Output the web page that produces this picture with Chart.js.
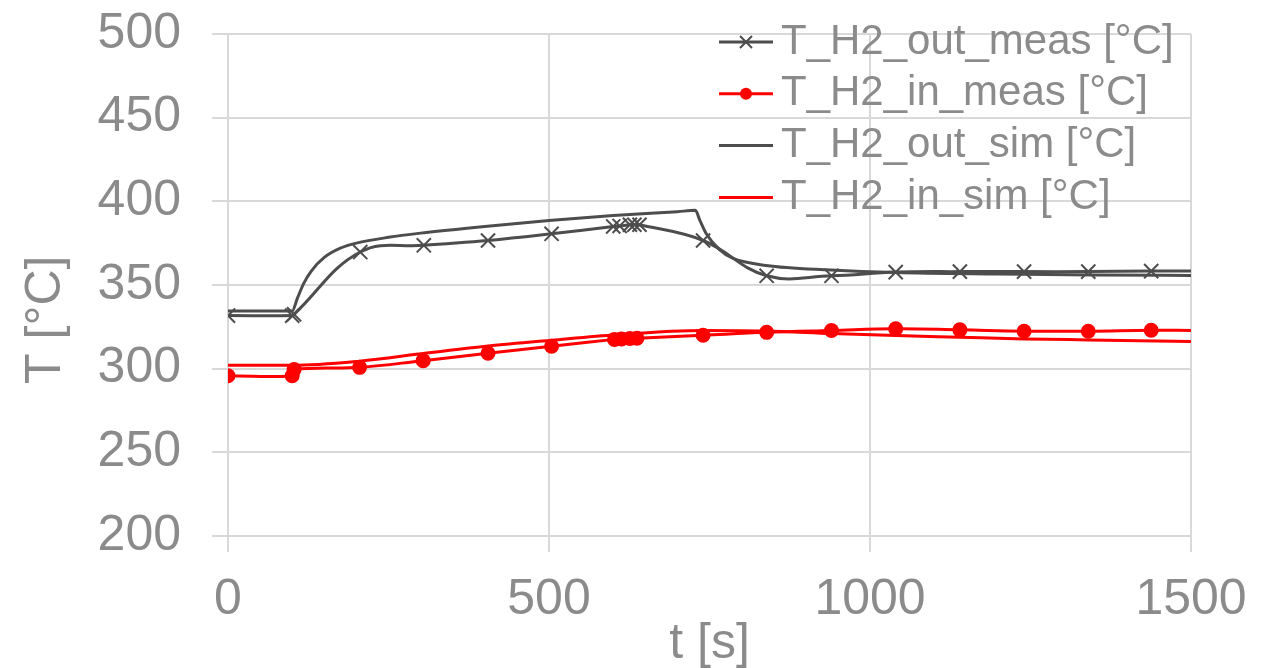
<!DOCTYPE html>
<html>
<head>
<meta charset="utf-8">
<script src="https://cdn.jsdelivr.net/npm/chart.js@4.4.0/dist/chart.umd.min.js"></script>
<style>
html,body{margin:0;padding:0;background:#ffffff;}
#wrap{width:1262px;height:668px;}
</style>
</head>
<body>
<div id="wrap"><canvas id="c" width="1262" height="668"></canvas></div>
<script>
// ---- data ----
const seriesNames = ['T_H2_out_meas [°C]', 'T_H2_in_meas [°C]', 'T_H2_out_sim [°C]', 'T_H2_in_sim [°C]'];

const outMeasTime = [0, 100, 103, 206, 305, 405, 504, 600, 610, 626, 633, 641, 740, 839, 940, 1040, 1140, 1240, 1340, 1438, 1500];
const outMeas     = [331.7, 331.7, 332.5, 369.7, 373.7, 376.6, 380.6, 385, 385.3, 386, 386, 386, 376.6, 355.5, 355.5, 357.7, 358, 358, 358, 358.3, 358.3];

const inMeasTime  = [0, 100, 103, 205, 304, 405, 504, 602, 613, 626, 637, 740, 839, 940, 1040, 1140, 1240, 1340, 1438, 1500];
const inMeas      = [295.8, 295.8, 299.5, 300.8, 304.8, 309.2, 313.4, 317.5, 317.8, 318, 318.2, 320, 321.7, 322.8, 323.8, 323.2, 322.4, 322.4, 323, 322.8];

const outSimTime  = [0, 100, 108, 118, 130, 150, 175, 200, 250, 300, 400, 500, 600, 700, 728, 735, 745, 766, 786, 838, 940, 1040, 1200, 1350, 1500];
const outSim      = [334.5, 334.5, 342, 351, 358.5, 366.5, 372, 375, 378.5, 381, 385, 388.5, 391.5, 393.8, 394.6, 388.6, 380.6, 371, 366, 361.7, 359, 357.5, 356.6, 356, 355.7];

const inSimTime   = [0, 100, 205, 304, 405, 504, 605, 740, 838, 940, 1040, 1140, 1240, 1340, 1500];
const inSim       = [302, 302, 304.5, 309, 313.5, 317, 320.3, 322.8, 322.5, 321, 319.8, 318.8, 317.8, 317.2, 316.3];

const xTickValues = [0, 500, 1000, 1500];
const yTickValues = [200, 250, 300, 350, 400, 450, 500];
const xTitle = 't [s]';
const yTitle = 'T [°C]';

// ---- styling ----
const FONT = "'Liberation Sans', Arial, sans-serif";
const GRAY = '#8b8b8b';
const GRID = '#d9d9d9';
const DARK = '#4d4d4d';
const RED = '#ff0000';

function pts(xs, ys) { return xs.map((x, i) => ({ x: x, y: ys[i] })); }
function markerRadius(r) {
  return ctx => (ctx.raw && ctx.raw.x >= 1500 ? 0 : r);
}

const legendPlugin = {
  id: 'xlLegend',
  afterDraw(chart) {
    const ctx = chart.ctx;
    const x1 = 719, x2 = 773, xm = 746, xt = 781;
    const top = 42, gap = 51.8;
    ctx.save();
    chart.data.datasets.forEach((ds, i) => {
      const y = top + i * gap;
      ctx.strokeStyle = ds.borderColor;
      ctx.lineWidth = 3;
      ctx.beginPath(); ctx.moveTo(x1, y); ctx.lineTo(x2, y); ctx.stroke();
      if (ds.pointStyle === 'crossRot') {
        ctx.lineWidth = 2;
        const s = 6;
        ctx.beginPath();
        ctx.moveTo(xm - s, y - s); ctx.lineTo(xm + s, y + s);
        ctx.moveTo(xm - s, y + s); ctx.lineTo(xm + s, y - s);
        ctx.stroke();
      } else if (ds.pointStyle === 'circle' && ds.pointRadius) {
        ctx.fillStyle = ds.borderColor;
        ctx.beginPath(); ctx.arc(xm, y, 6, 0, Math.PI * 2); ctx.fill();
      }
      ctx.fillStyle = GRAY;
      ctx.font = '42px ' + FONT;
      ctx.textAlign = 'left';
      ctx.textBaseline = 'middle';
      ctx.fillText(ds.label, xt, y);
    });
    ctx.restore();
  }
};

new Chart(document.getElementById('c'), {
  type: 'line',
  data: {
    datasets: [
      { label: seriesNames[0], data: pts(outMeasTime, outMeas), borderColor: DARK, backgroundColor: DARK,
        borderWidth: 3, pointStyle: 'crossRot', pointRadius: markerRadius(10), pointBorderWidth: 2,
        pointBorderColor: DARK, tension: 0.4, order: 3 },
      { label: seriesNames[1], data: pts(inMeasTime, inMeas), borderColor: RED, backgroundColor: RED,
        borderWidth: 3, pointStyle: 'circle', pointRadius: markerRadius(7.5), pointBorderWidth: 0,
        pointBackgroundColor: RED, tension: 0.4, order: 2 },
      { label: seriesNames[2], data: pts(outSimTime, outSim), borderColor: DARK, backgroundColor: DARK,
        borderWidth: 3, pointRadius: 0, cubicInterpolationMode: 'monotone', order: 1 },
      { label: seriesNames[3], data: pts(inSimTime, inSim), borderColor: RED, backgroundColor: RED,
        borderWidth: 3, pointRadius: 0, cubicInterpolationMode: 'monotone', order: 0 }
    ]
  },
  options: {
    responsive: false,
    animation: false,
    devicePixelRatio: 1,
    layout: { padding: { top: 34, right: 71, left: 0, bottom: 0 } },
    plugins: { legend: { display: false }, tooltip: { enabled: false } },
    scales: {
      x: {
        type: 'linear', min: 0, max: 1500,
        afterBuildTicks: s => { s.ticks = xTickValues.map(v => ({ value: v })); },
        afterFit: s => { s.height = 132; s.paddingLeft = 0; s.paddingRight = 0; },
        grid: { color: GRID, lineWidth: 2, tickLength: 16, drawTicks: true },
        border: { color: GRID, width: 2 },
        ticks: { font: { family: FONT, size: 50 }, color: GRAY, padding: 18, maxRotation: 0, autoSkip: false,
                 callback: v => String(v) },
        title: { display: true, text: xTitle, font: { family: FONT, size: 50, lineHeight: 1.2 }, color: GRAY,
                 padding: { top: 0, bottom: -6 } }
      },
      y: {
        type: 'linear', min: 200, max: 500,
        afterBuildTicks: s => { s.ticks = yTickValues.map(v => ({ value: v })); },
        afterFit: s => { s.width = 228; s.paddingTop = 0; s.paddingBottom = 0; },
        grid: { color: GRID, lineWidth: 2, tickLength: 16, drawTicks: true },
        border: { color: GRID, width: 2 },
        ticks: { font: { family: FONT, size: 50 }, color: GRAY, padding: 31, autoSkip: false,
                 callback: v => String(v) },
        title: { display: true, text: yTitle + '\u00a0\u00a0\u00a0\u00a0\u00a0', font: { family: FONT, size: 50, lineHeight: 1.2 },
                 color: GRAY, padding: { top: 16, bottom: 0 } }
      }
    }
  },
  plugins: [legendPlugin]
});
</script>
</body>
</html>
